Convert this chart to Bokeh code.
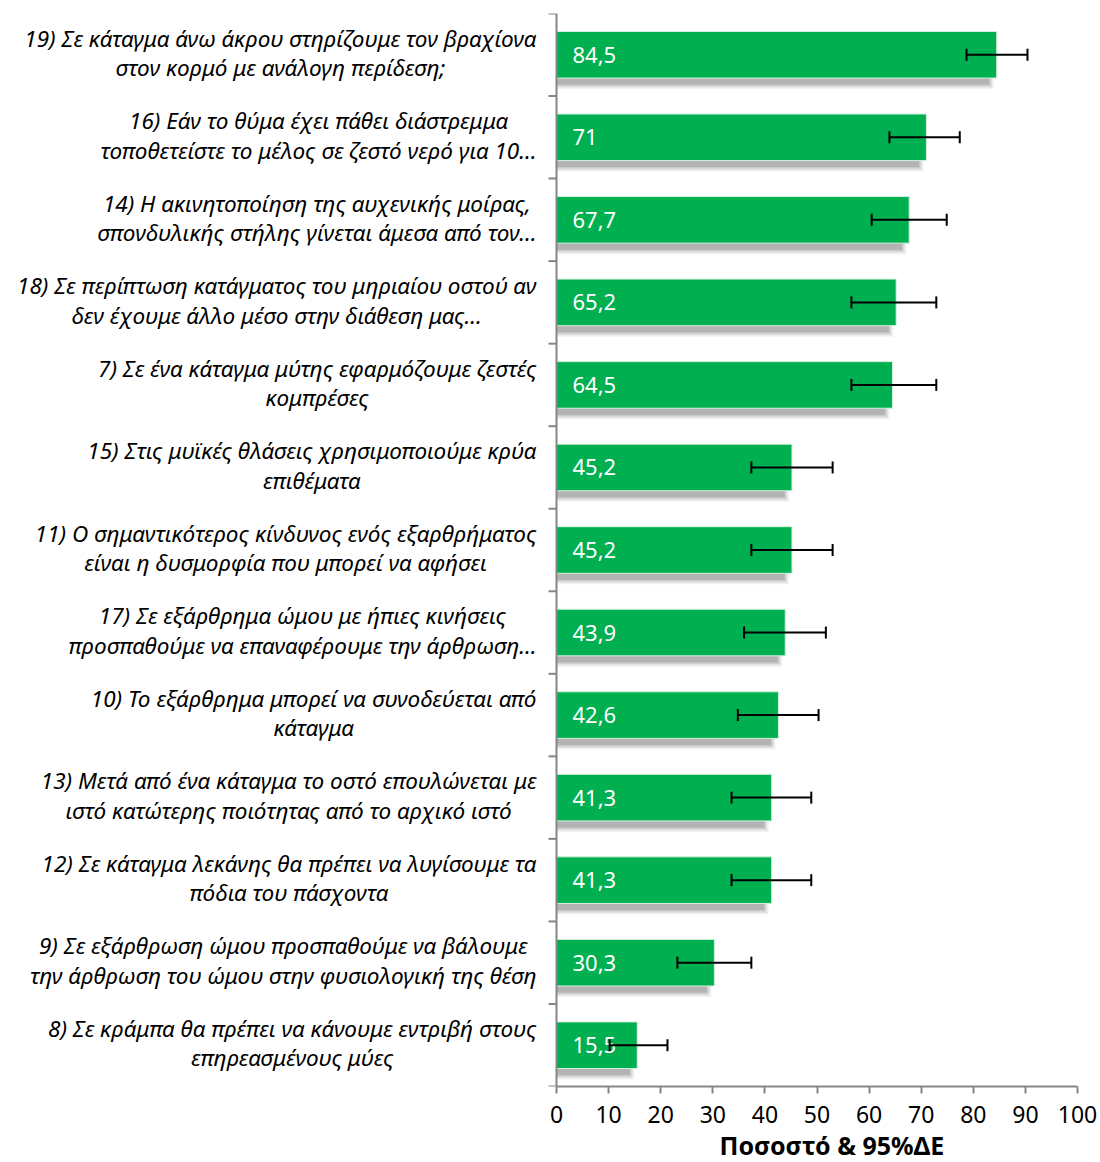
import numpy as np
from bokeh.plotting import figure
from bokeh.models import (ColumnDataSource, Range1d, FixedTicker, Whisker, TeeHead, Label, Title)
from bokeh.core.properties import value
from bokeh.embed import file_html
from bokeh.resources import INLINE

# ---- data (top to bottom) ----
labels = [
    "19) Σε κάταγμα άνω άκρου στηρίζουμε τον βραχίονα\nστον κορμό με ανάλογη περίδεση;",
    "16) Εάν το θύμα έχει πάθει διάστρεμμα\nτοποθετείστε το μέλος σε ζεστό νερό για 10…",
    "14) Η ακινητοποίηση της αυχενικής μοίρας,\nσπονδυλικής στήλης γίνεται άμεσα από τον…",
    "18) Σε περίπτωση κατάγματος του μηριαίου οστού αν\nδεν έχουμε άλλο μέσο στην διάθεση μας…",
    "7) Σε ένα κάταγμα μύτης εφαρμόζουμε ζεστές\nκομπρέσες",
    "15) Στις μυϊκές θλάσεις χρησιμοποιούμε κρύα\nεπιθέματα",
    "11) Ο σημαντικότερος κίνδυνος ενός εξαρθρήματος\nείναι η δυσμορφία που μπορεί να αφήσει",
    "17) Σε εξάρθρημα ώμου με ήπιες κινήσεις\nπροσπαθούμε να επαναφέρουμε την άρθρωση…",
    "10) Το εξάρθρημα μπορεί να συνοδεύεται από\nκάταγμα",
    "13) Μετά από ένα κάταγμα το οστό επουλώνεται με\nιστό κατώτερης ποιότητας από το αρχικό ιστό",
    "12) Σε κάταγμα λεκάνης θα πρέπει να λυγίσουμε τα\nπόδια του πάσχοντα",
    "9) Σε εξάρθρωση ώμου προσπαθούμε να βάλουμε\nτην άρθρωση του ώμου στην φυσιολογική της θέση",
    "8) Σε κράμπα θα πρέπει να κάνουμε εντριβή στους\nεπηρεασμένους μύες",
]
values = [84.5, 71, 67.7, 65.2, 64.5, 45.2, 45.2, 43.9, 42.6, 41.3, 41.3, 30.3, 15.5]
ci_low = [78.7, 63.9, 60.5, 56.6, 56.6, 37.4, 37.4, 36.0, 34.8, 33.6, 33.6, 23.2, 10.2]
ci_high = [90.4, 77.4, 74.9, 72.9, 72.9, 53.0, 53.0, 51.7, 50.3, 48.9, 48.9, 37.4, 21.3]
x_ticks = [0, 10, 20, 30, 40, 50, 60, 70, 80, 90, 100]
x_title = "Ποσοστό & 95%ΔΕ"

n = len(values)
ypos = np.arange(n)[::-1] + 0.5
vals = np.array(values, dtype=float)
value_text = [f"{v:g}".replace(".", ",") for v in values]

GREEN = "#00B050"
AXIS_GRAY = "#868686"
FONT = "Noto Sans"

# ---- layout (pixels) ----
W, H = 1098, 1162
AXIS_X = 556          # pixel position of x = 0 inside the frame
PLOT_W = 521          # pixels from 0 to 100
TOP, BOTTOM_BORDER = 13, 76
frame_h = H - TOP - BOTTOM_BORDER
px_x = 100.0 / PLOT_W
px_y = n / frame_h
x_start = -AXIS_X * px_x

p = figure(width=W, height=H, output_backend="svg", toolbar_location=None,
           x_range=Range1d(x_start, 100), y_range=Range1d(0, n),
           y_axis_location=None,
           min_border_left=0, min_border_right=W - AXIS_X - PLOT_W,
           min_border_top=TOP, min_border_bottom=BOTTOM_BORDER)
p.outline_line_color = None
p.xgrid.visible = False
p.ygrid.visible = False
p.background_fill_color = "white"
p.border_fill_color = "white"

src = ColumnDataSource(dict(y=ypos, v=vals, lo=ci_low, hi=ci_high, txt=value_text))

# ---- shadow (layered soft gray) ----
bar_h = 46.6 * px_y
for e, a in [(5, 0.08), (3.5, 0.11), (2, 0.15), (0.5, 0.20)]:
    p.hbar(y=ypos - 6 * px_y, left=0, right=vals - (8 - e) * px_x,
           height=bar_h + 2 * e * px_y, fill_color="#555555", fill_alpha=a,
           line_color=None)

# ---- bars ----
p.hbar(y="y", right="v", left=0, height=bar_h, source=src,
       fill_color=GREEN, line_color="#d8f0df", line_width=1)

# ---- value labels ----
p.text(x=0, y="y", text="txt", source=src, x_offset=16, text_color="white",
       text_font=value(FONT), text_font_size="22px", text_baseline="middle",
       text_align="left")

# ---- y axis line and category tick marks ----
bounds = np.arange(n + 1)
p.segment(x0=0, y0=0, x1=0, y1=n, line_color=AXIS_GRAY, line_width=2)
p.segment(x0=-8 * px_x, y0=bounds, x1=0, y1=bounds, line_color=AXIS_GRAY, line_width=2)

# ---- error bars ----
wh = Whisker(base="y", lower="lo", upper="hi", source=src, dimension="width",
             line_color="black", line_width=2, level="overlay",
             lower_head=TeeHead(size=12, line_width=2, line_color="black"),
             upper_head=TeeHead(size=12, line_width=2, line_color="black"))
p.add_layout(wh)

# ---- x axis ----
xa = p.xaxis[0]
xa.bounds = (0, 100)
xa.ticker = FixedTicker(ticks=x_ticks)
xa.axis_line_color = AXIS_GRAY
xa.axis_line_width = 2
xa.major_tick_line_color = AXIS_GRAY
xa.major_tick_line_width = 2
xa.major_tick_out = 7
xa.major_tick_in = 0
xa.minor_tick_line_color = None
xa.major_label_text_font = FONT
xa.major_label_text_font_size = "23px"
xa.major_label_text_color = "black"
xa.major_label_standoff = 12

# ---- axis title (below, positioned under the plotted area) ----
p.add_layout(Title(text=x_title, align="left", offset=719, standoff=0,
                   text_font=FONT, text_font_style="bold", text_font_size="25px",
                   text_color="black"), "below")

# ---- category labels (right-aligned block, centered lines) ----
for lab, yy in zip(labels, ypos):
    p.add_layout(Label(x=0, y=yy, x_offset=-20, y_offset=2, text=lab,
                       anchor="center_right",
                       text_align="center", text_baseline="middle",
                       text_font=FONT, text_font_style="italic",
                       text_font_size="22.5px", text_color="black",
                       text_line_height=0.95))

open("out.html", "w").write(file_html(p, INLINE))
